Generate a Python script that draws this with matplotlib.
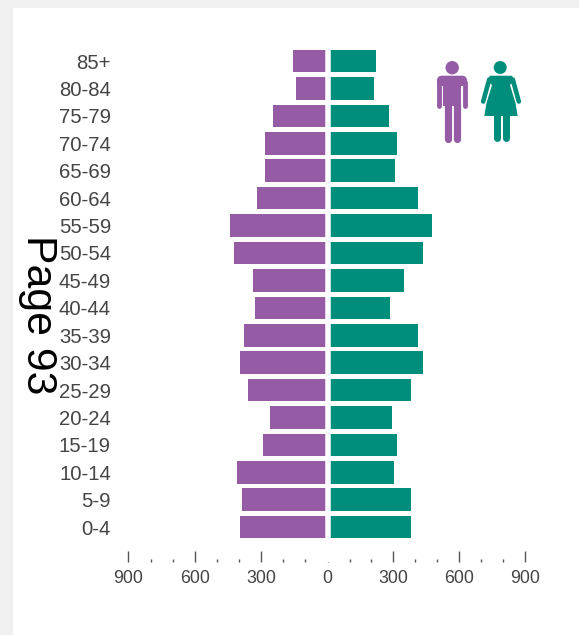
import matplotlib
matplotlib.use("Agg")
import matplotlib.pyplot as plt
from matplotlib.patches import Rectangle, Circle, Polygon, FancyBboxPatch

age_groups = ["0-4", "5-9", "10-14", "15-19", "20-24", "25-29", "30-34", "35-39", "40-44",
              "45-49", "50-54", "55-59", "60-64", "65-69", "70-74", "75-79", "80-84", "85+"]
male = [394, 387, 409, 294, 260, 360, 394, 380, 328, 337, 421, 443, 319, 285, 283, 247, 143, 156]
female = [379, 381, 305, 317, 292, 379, 436, 415, 283, 349, 436, 477, 415, 308, 319, 280, 214, 223]
major_left = [-900, -600, -300, 0]
minor_left = [-800, -700, -500, -400, -200, -100]
major_right = [300, 600, 900]
minor_right = [100, 200, 400, 500, 700, 800]

PURPLE = "#955BA5"
GREEN = "#008E7C"
TEXT = "#444444"
W, H = 579, 635
SCALE_L, SCALE_R = 0.2213, 0.2190
ZERO_PX = 327.6
ROW_PX = 27.41
ROW0_PY = 527.1

plt.rcParams["font.family"] = ["Liberation Sans", "DejaVu Sans"]

fig = plt.figure(figsize=(W / 100, H / 100), dpi=100, facecolor="#f0f0f0")
fig.patches.append(Rectangle((13 / W, 0), 1, 1 - 8 / H, transform=fig.transFigure,
                             facecolor="white", edgecolor="none", zorder=-10))

left, right, top, bottom = 115, 545, 40, 561.5
axl = fig.add_axes([left / W, 1 - bottom / H, (ZERO_PX - left) / W, (bottom - top) / H])
axr = fig.add_axes([ZERO_PX / W, 1 - bottom / H, (right - ZERO_PX) / W, (bottom - top) / H])
y = list(range(len(age_groups)))
axl.barh(y, [-v for v in male], height=0.825, color=PURPLE, edgecolor="none", zorder=2)
axr.barh(y, female, height=0.825, color=GREEN, edgecolor="none", zorder=2)
axl.set_xlim((left - ZERO_PX) / SCALE_L, 0)
axr.set_xlim(0, (right - ZERO_PX) / SCALE_R)

for ax, maj, mnr in [(axl, major_left, minor_left), (axr, major_right, minor_right)]:
    ax.patch.set_alpha(0)
    ax.set_ylim((ROW0_PY - bottom) / ROW_PX, (ROW0_PY - top) / ROW_PX)
    ax.axvline(0, color="white", lw=5.5 * 0.72, zorder=3)
    for s in ax.spines.values():
        s.set_visible(False)
    ax.set_xticks(maj)
    ax.set_xticklabels([str(abs(v)) for v in maj])
    ax.set_xticks(mnr, minor=True)
    ax.tick_params(axis="x", which="major", direction="in", length=7.9, width=1.0,
                   color="#555555", labelcolor=TEXT, pad=6.2, labelsize=12.8)
    ax.tick_params(axis="x", which="minor", direction="in", length=2.4, width=1.0, color="#555555")
axr.set_yticks([])
axl.set_yticks(y)
axl.set_yticklabels(age_groups, fontsize=14.6, color=TEXT)
axl.tick_params(axis="y", length=0, pad=2.9)

# pixel-space overlay for the decorative pictograms and the page label
ov = fig.add_axes([0, 0, 1, 1], zorder=5)
ov.set_xlim(0, W)
ov.set_ylim(H, 0)
ov.axis("off")

def stroke(pts, w, c, z=2):
    xs, ys = zip(*pts)
    ov.plot(xs, ys, color=c, lw=w * 0.72, solid_capstyle="round", zorder=z)

# man
ov.add_patch(Circle((452.2, 67.7), 6.7, color=PURPLE, lw=0))
ov.add_patch(FancyBboxPatch((442, 80.7), 20, 0.3, boxstyle="round,pad=5,rounding_size=5",
                            color=PURPLE, lw=0, zorder=1.5))
ov.add_patch(Rectangle((443.3, 84), 17.4, 22, color=PURPLE, lw=0, zorder=2))
stroke([(439.4, 82), (439.4, 105.6)], 4.8, PURPLE)
stroke([(464.7, 82), (464.7, 105.6)], 4.8, PURPLE)
stroke([(447.5, 104), (447.5, 139.4)], 7.2, PURPLE)
stroke([(457, 104), (457, 139.4)], 7.2, PURPLE)

# woman
ov.add_patch(Circle((500.2, 67.5), 6.5, color=GREEN, lw=0))
ov.add_patch(Polygon([(490, 75.7), (512, 75.7), (514.5, 81), (510, 85), (515.5, 103), (517.7, 116),
                      (484.3, 116), (486.5, 103), (492, 85), (487.5, 81)],
                     closed=True, color=GREEN, lw=0, zorder=1.5))
stroke([(489.2, 79.5), (483.2, 101.5)], 4.6, GREEN)
stroke([(512.8, 79.5), (518.8, 101.5)], 4.6, GREEN)
stroke([(496.8, 113), (496.8, 137.5)], 7, GREEN)
stroke([(505.8, 113), (505.8, 137.5)], 7, GREEN)

ov.text(37.5, 315, "Page 93", rotation=270, ha="center", va="center", fontsize=30.8, color="black")

fig.savefig("out.png", dpi=100, facecolor=fig.get_facecolor())
